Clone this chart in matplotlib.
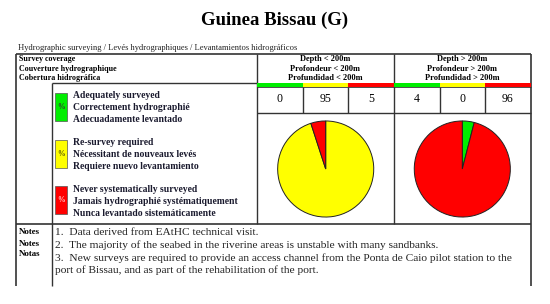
import matplotlib
matplotlib.use('Agg')
import matplotlib.pyplot as plt
from matplotlib.patches import Rectangle

plt.rcParams['font.family'] = ['Liberation Serif', 'DejaVu Serif']

##### data #####
title = "Guinea Bissau (G)"
subtitle = "Hydrographic surveying / Levés hydrographiques / Levantamientos hidrográficos"
header_left = ["Survey coverage", "Couverture hydrographique", "Cobertura hidrográfica"]
depth_headers = [
    ["Depth < 200m", "Profondeur < 200m", "Profundidad < 200m"],
    ["Depth > 200m", "Profondeur > 200m", "Profundidad > 200m"],
]
categories = ["Adequately surveyed", "Re-survey required", "Never systematically surveyed"]
legend_lines = [
    ["Adequately surveyed", "Correctement hydrographié", "Adecuadamente levantado"],
    ["Re-survey required", "Nécessitant de nouveaux levés", "Requiere nuevo levantamiento"],
    ["Never systematically surveyed", "Jamais hydrographié systématiquement", "Nunca levantado sistemáticamente"],
]
shallow_values = [0, 95, 5]
deep_values = [4, 0, 96]
notes_labels = ["Notes", "Notes", "Notas"]
notes_lines = [
    "1.  Data derived from EAtHC technical visit.",
    "2.  The majority of the seabed in the riverine areas is unstable with many sandbanks.",
    "3.  New surveys are required to provide an access channel from the Ponta de Caio pilot station to the",
    "port of Bissau, and as part of the rehabilitation of the port.",
]
colors = ["#00ee00", "#ffff00", "#ff0000"]

W, H = 550, 304
fig = plt.figure(figsize=(W / 100, H / 100), dpi=100)
ax = fig.add_axes([0, 0, 1, 1])
ax.set_xlim(0, W)
ax.set_ylim(H, 0)
ax.axis('off')

ax.text(275, 20.5, title, ha='center', va='center', fontsize=13.5, fontweight='bold')
ax.text(18, 47.5, subtitle, ha='left', va='center', fontsize=6.1, color='#222222')

# table geometry (pixels)
L, R = 15.7, 530.7
xa, xb = 51.7, 257
cols = [(257, 394), (394, 530.7)]
top, hdr, bar, num, pie_b, bot = 53.5, 83.3, 87.3, 112.7, 224.3, 286
lc = '#333333'

def hline(y, x0, x1, lw=1):
    ax.plot([x0, x1], [y, y], color=lc, lw=lw, solid_capstyle='butt', zorder=1)

def vline(x, y0, y1, lw=1):
    ax.plot([x, x], [y0, y1], color=lc, lw=lw, solid_capstyle='butt', zorder=1)

# header
for i, t in enumerate(header_left):
    ax.text(19, [58.7, 69, 78.3][i], t, ha='left', va='center', fontsize=5.8, fontweight='bold')
for (c0, c1), lines in zip(cols, depth_headers):
    for i, t in enumerate(lines):
        ax.text((c0 + c1) / 2, [59.3, 69.3, 78.3][i], t, ha='center', va='center',
                fontsize=6.0, fontweight='bold')

# lines
hline(top, L, R, 1.2)
hline(hdr, xa, xb)
hline(bar, xb, R, 0.6)
hline(num, xb, R)
hline(pie_b, L, R, 1.2)
vline(L, top, bot, 1.2)
vline(xa, hdr, bot)
vline(xb, top, pie_b)
vline(394, top, pie_b)
vline(R, top, bot, 1.2)

# colour bars and numbers
for (c0, c1), vals in zip(cols, [shallow_values, deep_values]):
    w = (c1 - c0) / 3
    for k in range(3):
        ax.add_patch(Rectangle((c0 + k * w, hdr - 0.5), w, bar - hdr, facecolor=colors[k],
                               edgecolor='none', zorder=3))
        ax.text(c0 + (k + 0.5) * w, 99.5, str(vals[k]), ha='center', va='center', fontsize=8.5)
        if k > 0:
            vline(c0 + k * w, bar, num)

# legend
sw_tops = [92.7, 140, 186]
text_rows = [[95, 107.5, 120], [142.7, 154.7, 166.7], [189, 201.5, 214]]
pct_colors = ['#333333', '#555500', '#ffcccc']
for k in range(3):
    ax.add_patch(Rectangle((55, sw_tops[k]), 11.7, 28, facecolor=colors[k], edgecolor='#555555', lw=0.5))
    ax.text(60.8, sw_tops[k] + 14, "%", ha='center', va='center', fontsize=5.5,
            fontweight='bold', color=pct_colors[k])
    for j, t in enumerate(legend_lines[k]):
        ax.text(73, text_rows[k][j], t, ha='left', va='center', fontsize=6.95,
                fontweight='bold', color='#1a1a2e')

# notes
for i, t in enumerate(notes_labels):
    ax.text(19, [231.7, 243.7, 254.3][i], t, ha='left', va='center', fontsize=6.4, fontweight='bold')
for i, t in enumerate(notes_lines):
    ax.text(55, [232.5, 245, 258, 270.5][i], t, ha='left', va='center', fontsize=8.2, color='#222222')

# pies
r = 49
for cx, vals in [(325.7, shallow_values), (462.3, deep_values)]:
    pax = fig.add_axes([(cx - r) / W, 1 - (169 + r) / H, 2 * r / W, 2 * r / H])
    v = [x for x in vals if x > 0]
    c = [colors[k] for k, x in enumerate(vals) if x > 0]
    pax.pie(v, colors=c, startangle=90, counterclock=False, radius=1,
            wedgeprops=dict(edgecolor='#222222', linewidth=0.7))
    pax.set_xlim(-1.02, 1.02)
    pax.set_ylim(-1.02, 1.02)
    pax.axis('off')

fig.savefig("out.png", dpi=100)
